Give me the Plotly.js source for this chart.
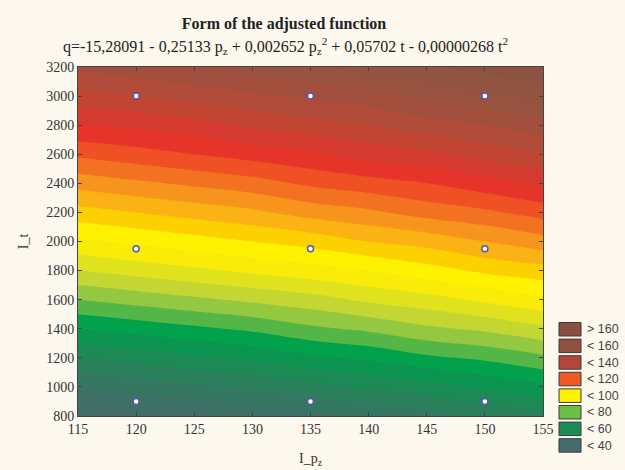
<!DOCTYPE html>
<html>
<head>
<meta charset="utf-8">
<script src="https://cdn.plot.ly/plotly-3.0.1.min.js"></script>
<style>
html,body{margin:0;padding:0;background:#fcf8ee;}
#chart{width:625px;height:470px;}
</style>
</head>
<body>
<div id="chart"></div>
<script>
// ---- data ----
const pValues = [115, 120, 125, 130, 135, 140, 145, 150, 155];
const tValues = [800, 1000, 1200, 1400, 1600, 1800, 2000, 2200, 2400, 2600, 2800, 3000, 3200];
// q estimated on the grid (rows = t, columns = p)
const qGrid = [
  [35, 37, 39, 41, 43, 45, 48, 51, 53],
  [45, 47, 49, 51, 53, 56, 58, 61, 64],
  [55, 57, 59, 61, 64, 66, 69, 71, 74],
  [65, 67, 69, 71, 74, 76, 79, 81, 84],
  [75, 77, 79, 81, 83, 86, 88, 91, 94],
  [85, 87, 89, 91, 93, 95, 98, 101, 103],
  [94, 96, 98, 100, 102, 105, 107, 110, 113],
  [103, 105, 107, 109, 112, 114, 117, 119, 122],
  [112, 114, 116, 118, 121, 123, 125, 128, 131],
  [121, 123, 125, 127, 129, 132, 134, 137, 140],
  [130, 131, 133, 136, 138, 140, 143, 145, 148],
  [138, 140, 142, 144, 146, 148, 151, 154, 156],
  [146, 148, 150, 152, 154, 157, 159, 162, 164]
];
const designP = [120, 135, 150, 120, 135, 150, 120, 135, 150];
const designT = [900, 900, 900, 1950, 1950, 1950, 3000, 3000, 3000];
const legendLabels = ['> 160', '< 160', '< 140', '< 120', '< 100', '< 80', '< 60', '< 40'];
const xTicks = [115, 120, 125, 130, 135, 140, 145, 150, 155];
const yTicks = [800, 1000, 1200, 1400, 1600, 1800, 2000, 2200, 2400, 2600, 2800, 3000, 3200];

// ---- styles ----
const legendColors = ['#8b4f3f', '#915141', '#b5453a', '#f05a22', '#fff200', '#6cbf45', '#1a8c55', '#466d6b'];
const bandColors = ['#466a6b', '#436d69', '#3d7166', '#347861', '#2a805b', '#1b8a55', '#0c9550',
  '#02a24c', '#55b648', '#93c840', '#c3d632', '#e0e21e', '#f8ec08', '#fff200', '#fdd100',
  '#fab214', '#f6941e', '#f37222', '#ef5024', '#e6342a', '#d43b2e', '#c24534', '#b04c39',
  '#a2503d', '#985240', '#915342', '#8c5343'];
const colorscale = bandColors.map((c, i) => [i / (bandColors.length - 1), c]);

const W = 625, H = 470, ML = 78, MR = 82, MT = 67, MB = 54;
const PW = W - ML - MR, PH = H - MT - MB;
const px2x = px => (px - ML) / PW;
const py2y = py => (H - MB - py) / PH;

const serif = 'Liberation Serif, Times New Roman, serif';
const sans = 'Liberation Sans, Arial, sans-serif';

const traces = [
  {
    type: 'contour',
    x: pValues, y: tValues, z: qGrid,
    colorscale: colorscale,
    contours: {start: 35, end: 160, size: 5, coloring: 'fill', showlines: false},
    line: {width: 0, smoothing: 1.3},
    showscale: false,
    hoverinfo: 'skip'
  },
  {
    type: 'scatter', mode: 'markers',
    x: designP, y: designT,
    marker: {symbol: 'circle', size: 6, color: '#ffffff', line: {color: '#5a56a8', width: 1.5}},
    showlegend: false, hoverinfo: 'skip'
  }
];

const shapes = [];
const annotations = [];
legendLabels.forEach((lab, i) => {
  const top = 322.5 + i * 16.6;
  shapes.push({
    type: 'rect', xref: 'paper', yref: 'paper',
    x0: px2x(559), x1: px2x(581), y0: py2y(top), y1: py2y(top + 13.5),
    fillcolor: legendColors[i], line: {color: '#3a3a3a', width: 1}
  });
  annotations.push({
    xref: 'paper', yref: 'paper', x: px2x(585), y: py2y(top + 6.8),
    xanchor: 'left', yanchor: 'middle', showarrow: false,
    text: lab, font: {family: sans, size: 12.5, color: '#444'}
  });
});

annotations.push({
  xref: 'paper', yref: 'paper', x: px2x(285), y: py2y(46),
  xanchor: 'center', yanchor: 'middle', showarrow: false,
  text: 'q=-15,28091 - 0,25133 p<sub>z</sub> + 0,002652 p<sub>z</sub><sup>2</sup> + 0,05702 t - 0,00000268 t<sup>2</sup>',
  font: {family: serif, size: 16, color: '#222'}
});

const axisCommon = {
  showgrid: false, zeroline: false,
  showline: true, linecolor: '#444', linewidth: 1, mirror: 'ticks',
  ticks: 'inside', ticklen: 4, tickcolor: '#444',
  tickfont: {family: serif, size: 14, color: '#333'}
};

const layout = {
  width: W, height: H,
  margin: {l: ML, r: MR, t: MT, b: MB, pad: 0},
  paper_bgcolor: '#fcf8ee', plot_bgcolor: '#fcf8ee',
  showlegend: false,
  title: {
    text: '<b>Form of the adjusted function</b>',
    x: 284 / W, xref: 'container', xanchor: 'center',
    y: 1 - 23 / H, yref: 'container', yanchor: 'middle',
    font: {family: serif, size: 16, color: '#222'}
  },
  xaxis: Object.assign({}, axisCommon, {
    range: [115, 155], tickvals: xTicks, ticktext: xTicks.map(String),
    title: {text: 'I_p<sub>z</sub>', font: {family: serif, size: 14, color: '#333'}, standoff: 17}
  }),
  yaxis: Object.assign({}, axisCommon, {
    range: [800, 3200], tickvals: yTicks, ticktext: yTicks.map(String),
    title: {text: 'I_t', font: {family: serif, size: 14, color: '#333'}, standoff: 14}
  }),
  shapes: shapes,
  annotations: annotations
};

Plotly.newPlot('chart', traces, layout, {staticPlot: true, displayModeBar: false});
</script>
</body>
</html>
